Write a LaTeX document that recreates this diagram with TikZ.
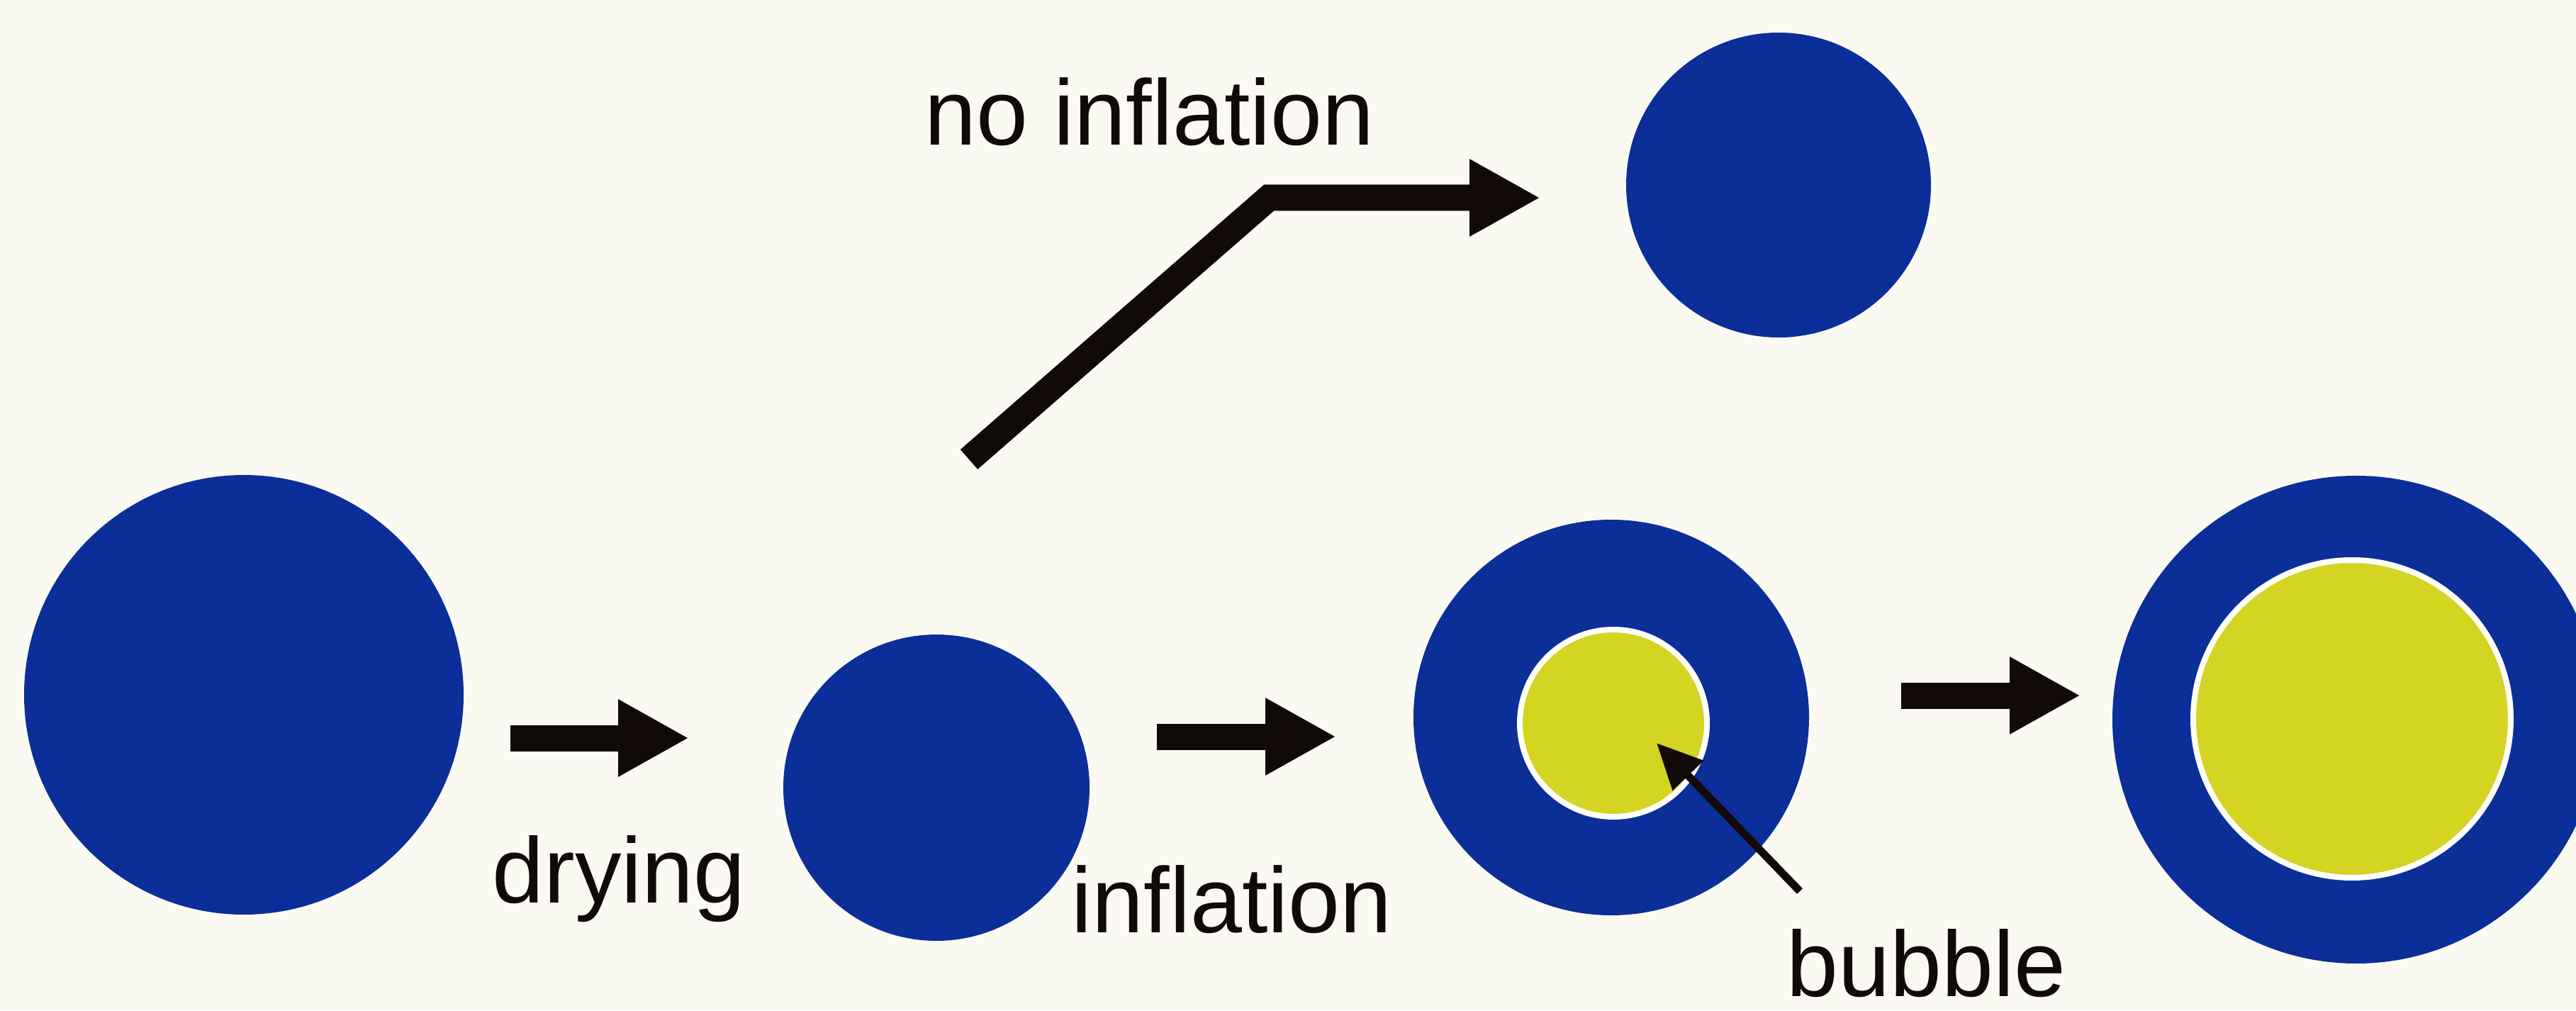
\documentclass[tikz,border=0pt]{standalone}
\usepackage{fontspec}
\setmainfont{Liberation Sans}[Ligatures=NoCommon]
\usepackage{xcolor}
\usetikzlibrary{arrows.meta,positioning}
\definecolor{paper}{HTML}{FAFAF2}
\definecolor{dropBlue}{HTML}{0B2E98}
\definecolor{gasYellow}{HTML}{D4D422}
\definecolor{ink}{HTML}{120A08}
\tikzset{
  every node/.append style = {text=ink},
  % --- particles ------------------------------------------------------------
  drop/.style      = {circle, fill=dropBlue, draw=none, inner sep=0pt},
  core/.style      = {circle, fill=gasYellow, draw=white, line width=0.8mm,
                      inner sep=0pt},
  % --- arrows ---------------------------------------------------------------
  fatarrow/.style  = {draw=ink, line width=3.7mm, line join=miter,
                      -{Triangle[length=10mm,width=10.2mm]}},
  thinarrow/.style = {draw=ink, line width=1.1mm,
                      -{Triangle[length=6.4mm,width=5.8mm]}},
  % --- labels ---------------------------------------------------------------
  lbl/.style       = {font=\fontsize{10}{12}\selectfont, inner sep=0pt,
                      anchor=base west, scale=3.73, transform shape},
}

\begin{document}
\begin{tikzpicture}

\useasboundingbox (0,0) rectangle (36.34,14.25);
\fill[paper] (0,0) rectangle (36.34,14.25);
\clip (0,0) rectangle (36.34,14.25);

% ============================== particles ==================================
\node[drop, minimum size=62mm]   (wet)    at (3.44,4.45)   {};
\node[drop, minimum size=43.2mm] (dried)  at (13.21,3.14)  {};
\node[drop, minimum size=43mm]   (flat)   at (25.09,11.64) {};
\node[drop, minimum size=55.8mm] (puffed) at (22.73,4.13)  {};
\node[core, minimum size=26.4mm] (bub)    at (22.76,4.05)  {};
\node[drop, minimum size=68.8mm] (hollow) at (33.24,4.10)  {};
\node[core, minimum size=44.8mm] (bigbub) at (33.18,4.11)  {};

% ================================ labels ===================================
\node[lbl] (noinf)  at (13.02,12.20) {no inflation};
\node[lbl] (dry)    at (6.92,1.52)   {drying};
\node[lbl] (inf)    at (15.09,1.10)  {inflation};
\node[lbl] (bublbl) at (25.18,0.20)  {bubble};

% ================================ arrows ===================================
\coordinate (d0) at (7.20,3.84);   \coordinate (d1) at (9.72,3.84);
\coordinate (i0) at (16.32,3.86);  \coordinate (i1) at (18.85,3.86);
\coordinate (g0) at (26.82,4.44);  \coordinate (g1) at (29.35,4.44);
\coordinate (n0) at (13.67,7.77);  \coordinate (nk) at (17.90,11.46);
\coordinate (n1) at (21.73,11.46);
\coordinate (b0) at (25.39,1.68);  \coordinate (b1) at (23.37,3.77);

\draw[fatarrow] (d0) -- (d1);
\draw[fatarrow] (i0) -- (i1);
\draw[fatarrow] (g0) -- (g1);
\draw[fatarrow] (n0) -- (nk) -- (n1);
\draw[thinarrow] (b0) -- (b1);

\end{tikzpicture}
\end{document}
